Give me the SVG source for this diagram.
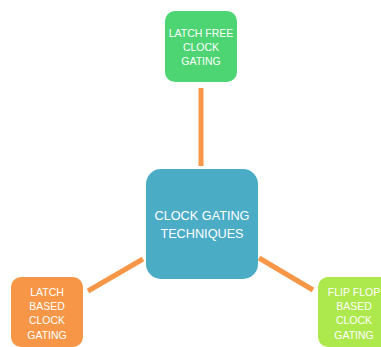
<svg xmlns="http://www.w3.org/2000/svg" width="381" height="347" viewBox="0 0 381 347">
<style>
.lbl{font-family:"Liberation Sans",Arial,sans-serif;fill:#ffffff;text-anchor:middle;font-size:10.5px}
.big{font-size:12.7px}
.conn{stroke:#F79646;stroke-width:5;fill:none}
</style>
<rect width="381" height="347" fill="#ffffff"/>
<g id="connectors">
<line class="conn" x1="201" y1="88" x2="201" y2="166"/>
<line class="conn" x1="88" y1="291" x2="143" y2="259"/>
<line class="conn" x1="259" y1="258" x2="313" y2="290"/>
</g>
<g id="center">
<rect x="146" y="169" width="112" height="110" rx="15" fill="#4BACC6"/>
<text class="lbl big" x="202" y="220">CLOCK GATING</text>
<text class="lbl big" x="202" y="238">TECHNIQUES</text>
</g>
<g id="top">
<rect x="165" y="11" width="72" height="71" rx="10" fill="#4DD473"/>
<text class="lbl" x="201" y="37">LATCH FREE</text>
<text class="lbl" x="201" y="51">CLOCK</text>
<text class="lbl" x="201" y="65">GATING</text>
</g>
<g id="left">
<rect x="11" y="277" width="72" height="70" rx="10" fill="#F79646"/>
<text class="lbl" x="47" y="296">LATCH</text>
<text class="lbl" x="47" y="310">BASED</text>
<text class="lbl" x="47" y="324">CLOCK</text>
<text class="lbl" x="47" y="339">GATING</text>
</g>
<g id="right">
<rect x="318" y="277" width="72" height="70" rx="10" fill="#ADE84C"/>
<text class="lbl" x="354" y="296">FLIP FLOP</text>
<text class="lbl" x="354" y="310">BASED</text>
<text class="lbl" x="354" y="324">CLOCK</text>
<text class="lbl" x="354" y="339">GATING</text>
</g>
</svg>
